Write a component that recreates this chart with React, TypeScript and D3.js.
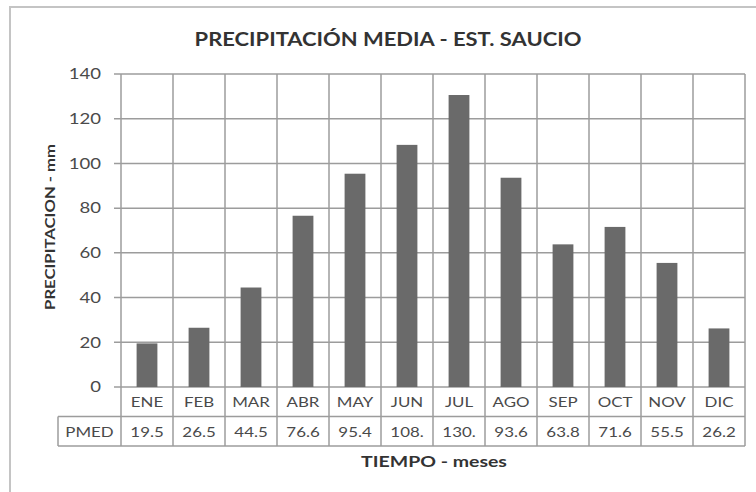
import * as d3 from "d3";
import type { ReactNode } from "react";

const months = ["ENE", "FEB", "MAR", "ABR", "MAY", "JUN", "JUL", "AGO", "SEP", "OCT", "NOV", "DIC"];
const pmed = [19.5, 26.5, 44.5, 76.6, 95.4, 108.3, 130.6, 93.6, 63.8, 71.6, 55.5, 26.2];
// as printed in the table cells (Excel truncated the wide ones)
const pmedLabels = ["19.5", "26.5", "44.5", "76.6", "95.4", "108.", "130.", "93.6", "63.8", "71.6", "55.5", "26.2"];
const yTicks = [0, 20, 40, 60, 80, 100, 120, 140];

const font = "Lato, 'Open Sans', sans-serif";

// the source picture is stretched sideways, so text gets a horizontal scale
const Label = ({
  x,
  y,
  size,
  anchor = "middle",
  bold = false,
  fill = "#4a4a4a",
  sx = 1.28,
  rotate = 0,
  central = false,
  children,
}: {
  x: number;
  y: number;
  size: number;
  anchor?: "start" | "middle" | "end";
  bold?: boolean;
  fill?: string;
  sx?: number;
  rotate?: number;
  central?: boolean;
  children: ReactNode;
}) => (
  <g transform={`translate(${x},${y}) rotate(${rotate}) scale(${sx},1)`}>
    <text
      textAnchor={anchor}
      dominantBaseline={central ? "central" : "auto"}
      fontFamily={font}
      fontWeight={bold ? "bold" : "normal"}
      fontSize={size}
      fill={fill}
    >
      {children}
    </text>
  </g>
);

export default function App() {
  const width = 756;
  const height = 492;
  const margin = { top: 74, right: 11, left: 121, bottom: 105 };
  const plotW = width - margin.left - margin.right;
  const plotH = height - margin.top - margin.bottom;

  const x = d3.scaleBand().domain(months).range([0, plotW]).padding(0);
  const xBar = d3
    .scaleBand()
    .domain(months)
    .range([0, plotW])
    .paddingInner(0.6)
    .paddingOuter(0.3);
  const y = d3.scaleLinear().domain([0, 140]).range([plotH, 0]);

  const rowH = 29.5;
  const tableLeft = 58 - margin.left;
  const grid = "#9c9c9c";

  return (
    <svg
      width={width}
      height={height}
      style={{ position: "absolute", left: 0, top: 0, background: "#fff" }}
    >
      {/* outer frame */}
      <rect x={10} y={7} width={760} height={500} fill="#fff" stroke="#c4c4c4" strokeWidth={2} />

      <Label x={388} y={46} size={18} bold fill="#333" sx={1.22}>
        PRECIPITACIÓN MEDIA - EST. SAUCIO
      </Label>

      <g transform={`translate(${margin.left},${margin.top})`}>
        {/* horizontal grid + ticks */}
        {yTicks.map((t) => (
          <g key={t}>
            <line x1={-7} x2={plotW} y1={y(t)} y2={y(t)} stroke={grid} strokeWidth={1.5} />
            <Label x={-20} y={y(t)} size={14.5} anchor="end" central>
              {t}
            </Label>
          </g>
        ))}

        {/* vertical grid (category boundaries), extended through the table */}
        {months.map((m) => (
          <line
            key={`v-${m}`}
            x1={x(m) || 0}
            x2={x(m) || 0}
            y1={0}
            y2={plotH + rowH * 2}
            stroke={grid}
            strokeWidth={1.5}
          />
        ))}
        <line x1={plotW} x2={plotW} y1={0} y2={plotH + rowH * 2} stroke={grid} strokeWidth={1.5} />

        {/* bars */}
        {months.map((m, i) => (
          <rect
            key={`b-${m}`}
            x={xBar(m)}
            y={y(pmed[i])}
            width={xBar.bandwidth()}
            height={plotH - y(pmed[i])}
            fill="#6a6a6a"
          />
        ))}

        {/* data table */}
        <line x1={tableLeft} x2={plotW} y1={plotH + rowH} y2={plotH + rowH} stroke={grid} strokeWidth={1.5} />
        <line x1={tableLeft} x2={plotW} y1={plotH + rowH * 2} y2={plotH + rowH * 2} stroke={grid} strokeWidth={1.5} />
        <line x1={tableLeft} x2={tableLeft} y1={plotH + rowH} y2={plotH + rowH * 2} stroke={grid} strokeWidth={1.5} />
        <Label x={tableLeft / 2} y={plotH + rowH * 1.5} size={13.5} sx={1.25} central>
          PMED
        </Label>
        {months.map((m, i) => (
          <g key={`t-${m}`}>
            <Label x={(x(m) || 0) + x.bandwidth() / 2} y={plotH + rowH * 0.5} size={13.5} sx={1.25} central>
              {m}
            </Label>
            <Label x={(x(m) || 0) + x.bandwidth() / 2} y={plotH + rowH * 1.5} size={13.5} sx={1.25} central>
              {pmedLabels[i]}
            </Label>
          </g>
        ))}
      </g>

      {/* axis titles */}
      <Label x={434} y={467} size={15} bold fill="#333" sx={1.3}>
        TIEMPO - meses
      </Label>
      <Label x={55} y={227} size={13} bold fill="#333" rotate={-90}>
        PRECIPITACION - mm
      </Label>
    </svg>
  );
}
